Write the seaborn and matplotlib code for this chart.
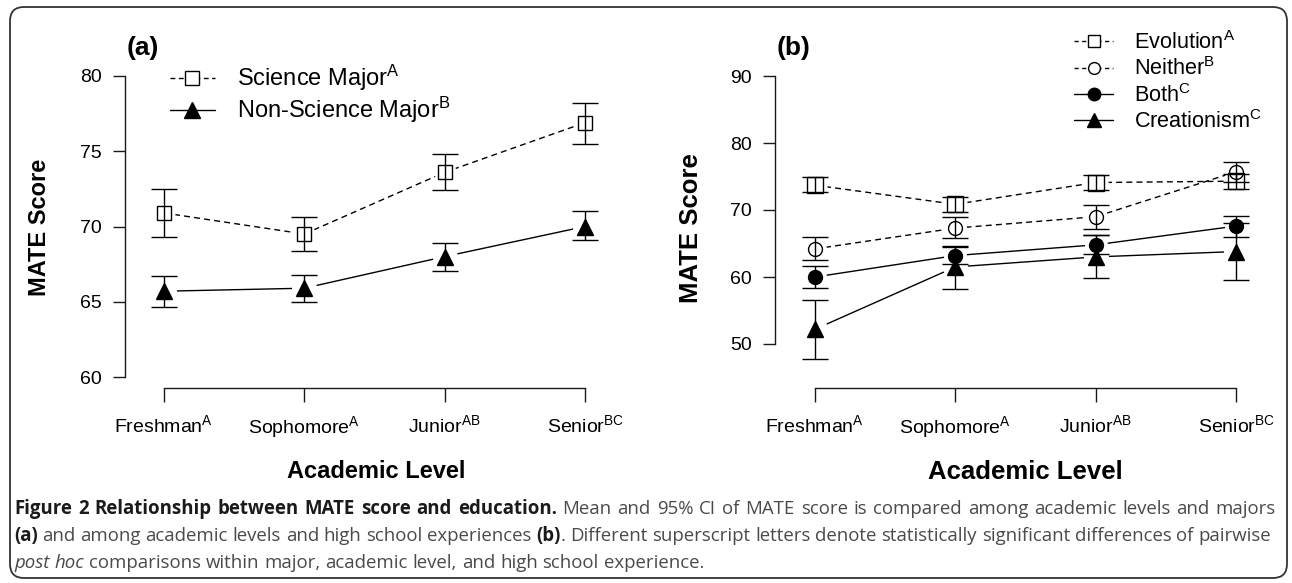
import numpy as np
import pandas as pd
import matplotlib
matplotlib.use("Agg")
import matplotlib.pyplot as plt
import seaborn as sns
from matplotlib.lines import Line2D
from matplotlib.patches import FancyBboxPatch
from matplotlib import font_manager as fm

# ---------------- data ----------------
levels = ["Freshman", "Sophomore", "Junior", "Senior"]
level_sup = ["A", "A", "AB", "BC"]

# panel (a): majors
sci_mean = [70.9, 69.5, 73.6, 76.9]
sci_lo = [69.3, 68.4, 72.4, 75.5]
sci_hi = [72.5, 70.6, 74.8, 78.2]
non_mean = [65.7, 65.9, 68.0, 70.0]
non_lo = [64.65, 65.0, 67.05, 69.1]
non_hi = [66.7, 66.8, 68.9, 71.0]
major_names = ["Science Major", "Non-Science Major"]
major_sup = ["A", "B"]

# panel (b): high school experiences
evo_mean = [73.7, 70.85, 74.1, 74.3]
evo_lo = [72.65, 69.75, 73.0, 73.2]
evo_hi = [75.0, 72.0, 75.2, 75.4]
nei_mean = [64.2, 67.3, 69.0, 75.7]
nei_lo = [62.5, 65.8, 67.2, 74.2]
nei_hi = [65.9, 69.0, 70.8, 77.2]
both_mean = [60.0, 63.2, 64.8, 67.6]
both_lo = [58.3, 62.0, 63.4, 66.0]
both_hi = [61.7, 64.5, 66.2, 69.1]
cre_mean = [52.2, 61.5, 63.0, 63.8]
cre_lo = [47.7, 58.2, 59.8, 59.5]
cre_hi = [56.5, 64.7, 66.2, 68.1]
exp_names = ["Evolution", "Neither", "Both", "Creationism"]
exp_sup = ["A", "B", "C", "C"]

yticks_a = [60, 65, 70, 75, 80]
yticks_b = [50, 60, 70, 80, 90]

# ---------------- style ----------------
W, H = 1292, 583
sns.set_style("ticks")
plt.rcParams.update({
    "font.family": ["Liberation Sans", "DejaVu Sans"],
    "mathtext.fontset": "custom",
    "mathtext.rm": "Liberation Sans",
    "mathtext.it": "Liberation Sans:italic",
    "mathtext.bf": "Liberation Sans:bold",
    "axes.edgecolor": "#1a1a1a",
    "axes.linewidth": 1.0,
    "xtick.color": "#1a1a1a",
    "ytick.color": "#1a1a1a",
    "xtick.labelcolor": "black",
    "ytick.labelcolor": "black",
    "xtick.major.width": 1.0,
    "ytick.major.width": 1.0,
    "text.color": "black",
    "axes.labelcolor": "black",
})

fig = plt.figure(figsize=(W / 100, H / 100), dpi=100)

# overlay in pixel coordinates (border, caption, panel letters)
ov = fig.add_axes([0, 0, 1, 1], zorder=-5)
ov.set_xlim(0, W)
ov.set_ylim(H, 0)
ov.axis("off")


def px_axes(left, right, top, bottom):
    return fig.add_axes([left / W, 1 - bottom / H, (right - left) / W, (bottom - top) / H])


def set_px_lims(ax, box, xa_px, xb_px, xa, xb, ya_px, yb_px, ya, yb):
    left, right, top, bottom = box
    sx = (xb_px - xa_px) / (xb - xa)
    ax.set_xlim(xa - (xa_px - left) / sx, xb + (right - xb_px) / sx)
    sy = (ya_px - yb_px) / (yb - ya)
    ax.set_ylim(ya - (bottom - ya_px) / sy, yb + (yb_px - top) / sy)


DASH = (4.3, 3.0)


def draw_panel(ax, names, means, los, his, dashed, markers, filled, sizes):
    pos = np.arange(len(levels))
    df = pd.DataFrame({
        "pos": np.tile(pos, len(names)),
        "score": np.concatenate([np.asarray(m, float) for m in means]),
        "group": np.repeat(names, len(levels)),
    })
    sns.lineplot(data=df, x="pos", y="score", hue="group", style="group",
                 palette={n: "black" for n in names},
                 dashes={n: (DASH if d else "") for n, d in zip(names, dashed)},
                 markers=False, legend=False, errorbar=None, sort=False,
                 linewidth=1.0, ax=ax, zorder=2)
    # white gaps around points (like R type="b")
    for m, s in zip(means, sizes):
        ax.plot(pos, m, ls="none", marker="o", ms=s + 6.5, mfc="white",
                mec="none", zorder=3)
    for m, mk, f, s in zip(means, markers, filled, sizes):
        ax.plot(pos, m, ls="none", marker=mk, ms=s, mfc=("black" if f else "none"),
                mec="black", mew=1.0, zorder=4)
    for m, lo, hi in zip(means, los, his):
        m = np.asarray(m, float)
        ax.errorbar(pos, m, yerr=[m - np.asarray(lo), np.asarray(hi) - m], fmt="none",
                    ecolor="black", elinewidth=1.0, capsize=9.2, capthick=1.0, zorder=5)
    ax.set_xticks(pos)
    ax.set_xticklabels([f"{l}$^{{\\mathrm{{{s}}}}}$" for l, s in zip(levels, level_sup)])
    sns.despine(ax=ax)
    ax.tick_params(axis="x", length=10, pad=9, labelsize=14)
    ax.tick_params(axis="y", length=8.6, pad=8, labelsize=14)
    ax.spines["bottom"].set_bounds(0, len(levels) - 1)
    ax.set_facecolor("none")


def place_labels(ax, xlab_xy, ylab_xy, size):
    ax.set_xlabel("Academic Level", fontsize=size, fontweight="bold")
    ax.set_ylabel("MATE Score", fontsize=size, fontweight="bold")
    ax.xaxis.set_label_coords(*xlab_xy, transform=ov.transData)
    ax.yaxis.set_label_coords(*ylab_xy, transform=ov.transData)
    ax.xaxis.label.set_va("center")
    ax.yaxis.label.set_va("center")
    ax.yaxis.label.set_ha("center")
    ax.yaxis.label.set_rotation_mode("anchor")


# ---------------- panel (a) ----------------
box_a = (125, 600, 60, 388)
ax_a = px_axes(*box_a)
set_px_lims(ax_a, box_a, 164, 585, 0, 3, 377, 76, 60, 80)
draw_panel(ax_a, major_names, [sci_mean, non_mean], [sci_lo, non_lo], [sci_hi, non_hi],
           dashed=[True, False], markers=["s", "^"], filled=[False, True], sizes=[9.4, 11.5])
ax_a.set_yticks(yticks_a)
ax_a.spines["left"].set_bounds(yticks_a[0], yticks_a[-1])
place_labels(ax_a, (376, 472), (40, 227), 17)

hand_a = [
    Line2D([0], [0], color="black", lw=1.0, dashes=(3.5, 2.5), marker="s", ms=9.4,
           mfc="white", mec="black", mew=1.0),
    Line2D([0], [0], color="black", lw=1.0, marker="^", ms=11.5, mfc="black", mec="black"),
]
ax_a.legend(hand_a, [f"{n}$^{{\\mathrm{{{s}}}}}$" for n, s in zip(major_names, major_sup)],
            loc="upper left", bbox_to_anchor=(170, 63), bbox_transform=ov.transData,
            frameon=False, fontsize=17, handlelength=1.9, handletextpad=0.93,
            labelspacing=0.08, borderpad=0, borderaxespad=0)

# ---------------- panel (b) ----------------
box_b = (775, 1250, 60, 388)
ax_b = px_axes(*box_b)
set_px_lims(ax_b, box_b, 815, 1236, 0, 3, 344, 76, 50, 90)
draw_panel(ax_b, exp_names,
           [evo_mean, nei_mean, both_mean, cre_mean],
           [evo_lo, nei_lo, both_lo, cre_lo],
           [evo_hi, nei_hi, both_hi, cre_hi],
           dashed=[True, True, False, False], markers=["s", "o", "o", "^"],
           filled=[False, False, True, True], sizes=[11.0, 10.0, 10.0, 11.5])
ax_b.set_yticks(yticks_b)
ax_b.spines["left"].set_bounds(yticks_b[0], yticks_b[-1])
place_labels(ax_b, (1025, 472), (691, 228), 18.5)

hand_b = [
    Line2D([0], [0], color="black", lw=1.0, dashes=(3.0, 2.5), marker="s", ms=8.5,
           mfc="white", mec="black", mew=1.0),
    Line2D([0], [0], color="black", lw=1.0, dashes=(3.0, 2.5), marker="o", ms=8.5,
           mfc="white", mec="black", mew=1.0),
    Line2D([0], [0], color="black", lw=1.0, marker="o", ms=9, mfc="black", mec="black"),
    Line2D([0], [0], color="black", lw=1.0, marker="^", ms=10, mfc="black", mec="black"),
]
ax_b.legend(hand_b, [f"{n}$^{{\\mathrm{{{s}}}}}$" for n, s in zip(exp_names, exp_sup)],
            loc="upper left", bbox_to_anchor=(1074, 31), bbox_transform=ov.transData,
            frameon=False, fontsize=15.6, handlelength=1.8, handletextpad=0.97,
            labelspacing=0.16, borderpad=0, borderaxespad=0)

# panel letters
ov.text(127, 48, "(a)", fontsize=19, fontweight="bold", ha="left", va="center")
ov.text(777, 48, "(b)", fontsize=19, fontweight="bold", ha="left", va="center")

# border
ov.add_patch(FancyBboxPatch((10, 7), 1277, 571, boxstyle="round,pad=0,rounding_size=14",
                            fc="none", ec="#333333", lw=1.3, transform=ov.transData))

# ---------------- caption ----------------
def pick_family(cands):
    for fam in cands:
        try:
            p = fm.findfont(fm.FontProperties(family=fam, weight="bold"),
                            fallback_to_default=False)
            if "bold" in p.lower():
                return fam
        except Exception:
            pass
    return "Liberation Sans"


CFAM = pick_family(["Open Sans", "Noto Sans", "Lato", "Roboto"])
CFONT = [CFAM, "DejaVu Sans"]
BOLD_C, REG_C = "#1a1a1a", "#4a4a4a"
fig.canvas.draw()
renderer = fig.canvas.get_renderer()


def kw_for(style, size):
    kw = dict(fontsize=size, family=CFONT, color=REG_C)
    if style == "b":
        kw.update(fontweight="bold", color=BOLD_C)
    elif style == "i":
        kw.update(fontstyle="italic")
    return kw


def twidth(s, style, size):
    t = ov.text(0, 0, s, **kw_for(style, size))
    w = t.get_window_extent(renderer).width
    t.remove()
    return w


def tokens(pieces):
    # pieces: (text, style, joined_to_previous_with_space)
    out = []
    for text, st, sp in pieces:
        for j, w in enumerate(text.split(" ")):
            out.append((w, st, sp if j == 0 else True))
    return out


def space_w(size):
    return twidth("n n", "r", size) - twidth("nn", "r", size)


def natural_width(pieces, size):
    tk = tokens(pieces)
    sp = space_w(size)
    return sum(twidth(w, st, size) for w, st, _ in tk) + sp * sum(1 for i, t in enumerate(tk) if i and t[2])


def write_line(pieces, x0, y, size, target=None):
    tk = tokens(pieces)
    widths = [twidth(w, st, size) for w, st, _ in tk]
    ngaps = sum(1 for i, t in enumerate(tk) if i and t[2])
    sp = space_w(size)
    if target is not None and ngaps:
        sp = (target - sum(widths)) / ngaps
    x = x0
    for i, ((w, st, g), wd) in enumerate(zip(tk, widths)):
        if i and g:
            x += sp
        ov.text(x, y, w, ha="left", va="baseline", **kw_for(st, size))
        x += wd


line1 = [("Figure 2 Relationship between MATE score and education.", "b", True),
         ("Mean and 95% CI of MATE score is compared among academic levels and majors", "r", True)]
line2 = [("(a)", "b", True), ("and among academic levels and high school experiences", "r", True),
         ("(b)", "b", True),
         (". Different superscript letters denote statistically significant differences of pairwise", "r", False)]
line3 = [("post hoc", "i", True), ("comparisons within major, academic level, and high school experience.", "r", True)]

base = 10.0
size = min(base * (1276 - 14) / natural_width(line1, base),
           base * (1271 - 14) / natural_width(line2, base))
write_line(line1, 14, 514, size, target=1276 - 14)
write_line(line2, 14, 541, size, target=1271 - 14)
write_line(line3, 14, 568, size)

fig.savefig("out.png", dpi=100)
